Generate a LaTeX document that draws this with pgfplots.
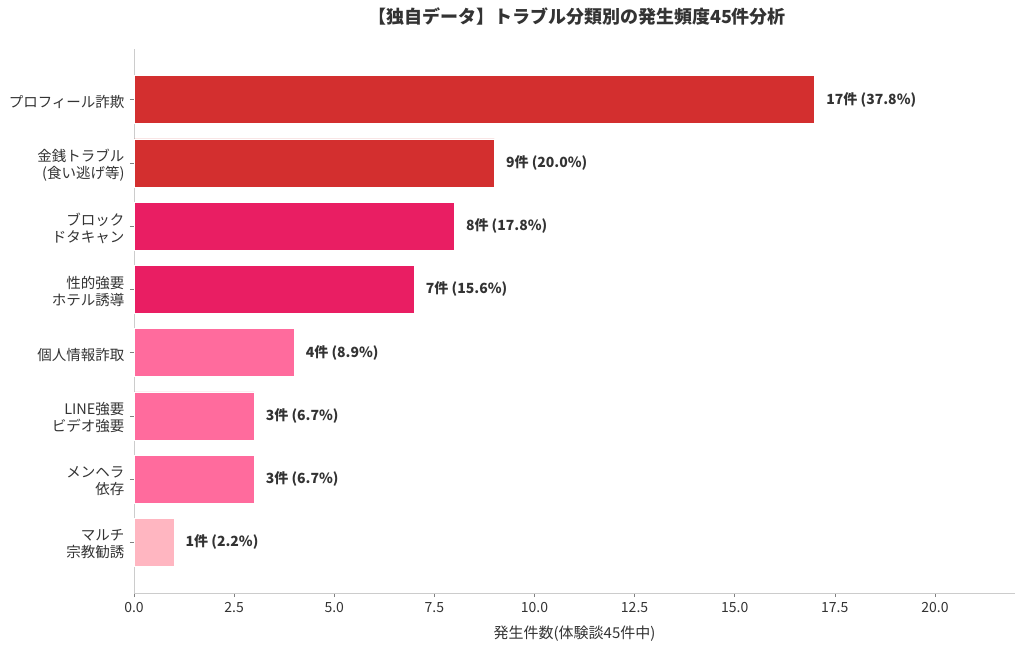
\documentclass[border=0pt]{standalone}
\usepackage{pgfplots}
\pgfplotsset{compat=1.18}
\usepackage{fontspec}
\setmainfont{Noto Sans CJK JP}
\definecolor{cRed}{HTML}{D32F2F}
\definecolor{cCrimson}{HTML}{E91E63}
\definecolor{cPink}{HTML}{FF6B9D}
\definecolor{cLight}{HTML}{FFB6C1}
\definecolor{txt}{HTML}{333333}
\definecolor{spine}{HTML}{CCCCCC}
\begin{document}
\begin{tikzpicture}[x=1pt,y=1pt]
\path[use as bounding box] (0,0) rectangle (1024,648);
\node[font=\fontsize{18}{21}\selectfont\bfseries, text=txt] at (577,631) {【独自データ】トラブル分類別の発生頻度45件分析};
\begin{axis}[
  at={(134pt,55pt)}, anchor=south west,
  scale only axis, width=881pt, height=544pt,
  xbar, bar shift=0pt, bar width=0.76,
  xmin=0, xmax=22, ymin=-0.8, ymax=7.8, y dir=reverse,
  axis x line*=bottom, axis y line*=left,
  axis line style={spine, line width=0.8pt},
  tick align=outside,
  major tick length=4pt,
  tick style={color=gray, line width=0.6pt},
  xtick={0,2.5,...,20},
  ytick={0,...,7},
  yticklabels={プロフィール詐欺, {金銭トラブル\\(食い逃げ等)}, {ブロック\\ドタキャン}, {性的強要\\ホテル誘導}, 個人情報詐取, {LINE強要\\ビデオ強要}, {メンヘラ\\依存}, {マルチ\\宗教勧誘}},
  yticklabel style={align=right, font=\fontsize{14.5}{17}\selectfont, text=txt, yshift=-2pt, xshift=-2pt},
  xticklabel style={font=\fontsize{14}{17}\selectfont, text=txt, yshift=-2pt, /pgf/number format/.cd, fixed, fixed zerofill, precision=1, assume math mode=true},
  xlabel={発生件数(体験談45件中)},
  xlabel style={font=\fontsize{15}{18}\selectfont, text=txt, yshift=-6pt},
  nodes near coords,
  point meta=explicit symbolic,
  nodes near coords style={anchor=west, xshift=8pt, font=\fontsize{14}{17}\selectfont\bfseries, text=txt},
]
\addplot[draw=white, line width=0.6pt, fill=cRed] coordinates {
  (17,0) [17件 (37.8\%)]
  (9,1) [9件 (20.0\%)]
};
\addplot[draw=white, line width=0.6pt, fill=cCrimson] coordinates {
  (8,2) [8件 (17.8\%)]
  (7,3) [7件 (15.6\%)]
};
\addplot[draw=white, line width=0.6pt, fill=cPink] coordinates {
  (4,4) [4件 (8.9\%)]
  (3,5) [3件 (6.7\%)]
  (3,6) [3件 (6.7\%)]
};
\addplot[draw=white, line width=0.6pt, fill=cLight] coordinates {
  (1,7) [1件 (2.2\%)]
};
\end{axis}
\end{tikzpicture}
\end{document}
